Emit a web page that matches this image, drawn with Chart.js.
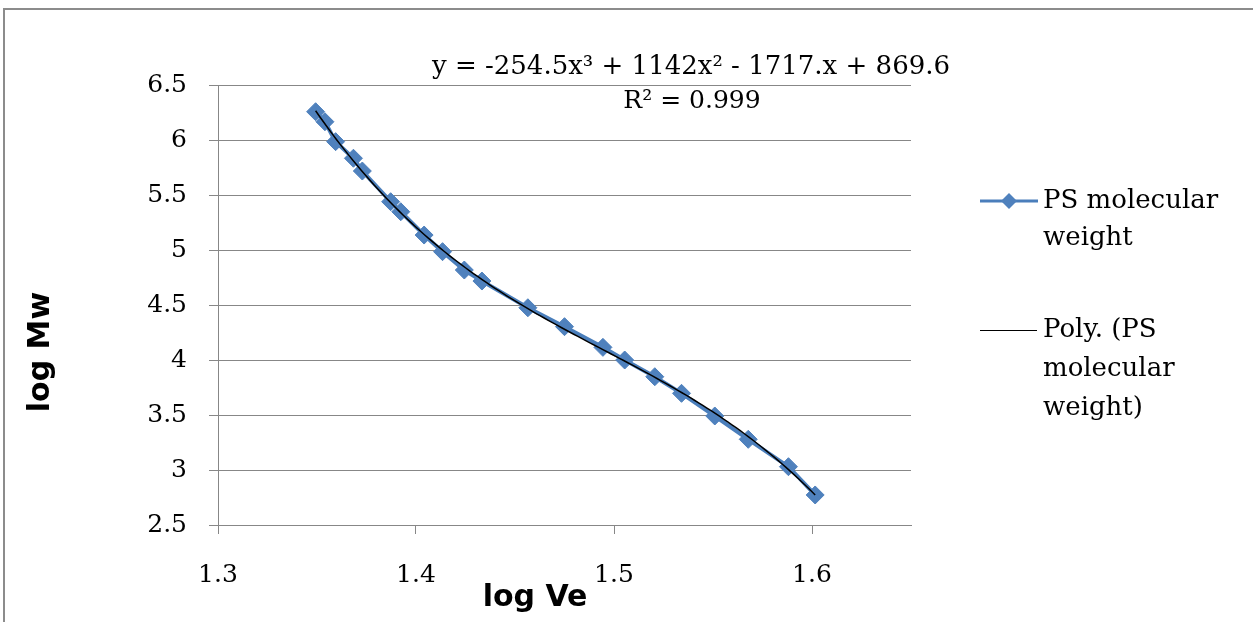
<!DOCTYPE html>
<html>
<head>
<meta charset="utf-8">
<title>PS calibration</title>
<script src="https://cdn.jsdelivr.net/npm/chart.js@4.4.0/dist/chart.umd.min.js"></script>
<style>
  html, body { margin: 0; padding: 0; background: #fff; }
  #wrap { width: 1253px; height: 622px; position: relative; }
</style>
</head>
<body>
<div id="wrap"><canvas id="calibChart"></canvas></div>
<script>
// PS standards: elution volume vs molecular weight (both log10)
const logVe = [1.3493, 1.3540, 1.3594, 1.3684, 1.3729, 1.3872, 1.3923, 1.4041, 1.4134, 1.4244, 1.4333,
               1.4565, 1.4750, 1.4944, 1.5054, 1.5206, 1.5341, 1.5509, 1.5678, 1.5881, 1.6016];
const logMw = [6.257, 6.166, 5.985, 5.834, 5.718, 5.439, 5.348, 5.136, 4.985, 4.818, 4.718,
               4.475, 4.303, 4.115, 4.000, 3.848, 3.697, 3.491, 3.279, 3.030, 2.773];

const xTickValues = [1.3, 1.4, 1.5, 1.6];
const yTickValues = [2.5, 3, 3.5, 4, 4.5, 5, 5.5, 6, 6.5];

const seriesName = ['PS molecular', 'weight'];
const trendName = ['Poly. (PS', 'molecular', 'weight)'];
const fitEquation = 'y = -254.5x³ + 1142x² - 1717.x + 869.6';
const fitR2 = 'R² = 0.999';

const blue = '#4F81BD';
const axisGrey = '#878787';
const serif = '"DejaVu Serif", serif';
const titleFont = 'bold 30px "DejaVu Sans", sans-serif';

// least-squares cubic through the points (x centred for stability)
function cubicFit(xs, ys) {
  const m = xs.reduce((a, b) => a + b, 0) / xs.length;
  const A = [[0, 0, 0, 0], [0, 0, 0, 0], [0, 0, 0, 0], [0, 0, 0, 0]];
  const B = [0, 0, 0, 0];
  xs.forEach((x, k) => {
    const t = x - m;
    const p = [1, t, t * t, t * t * t];
    for (let i = 0; i < 4; i++) {
      B[i] += p[i] * ys[k];
      for (let j = 0; j < 4; j++) A[i][j] += p[i] * p[j];
    }
  });
  for (let i = 0; i < 4; i++) {
    for (let r = i + 1; r < 4; r++) {
      const f = A[r][i] / A[i][i];
      for (let c = i; c < 4; c++) A[r][c] -= f * A[i][c];
      B[r] -= f * B[i];
    }
  }
  const c = [0, 0, 0, 0];
  for (let i = 3; i >= 0; i--) {
    let s = B[i];
    for (let j = i + 1; j < 4; j++) s -= A[i][j] * c[j];
    c[i] = s / A[i][i];
  }
  return x => { const t = x - m; return c[0] + c[1] * t + c[2] * t * t + c[3] * t * t * t; };
}

const poly = cubicFit(logVe, logMw);
const xLo = Math.min(...logVe), xHi = Math.max(...logVe);
const trendPoints = [];
for (let i = 0; i <= 120; i++) {
  const x = xLo + (xHi - xLo) * i / 120;
  trendPoints.push({ x: x, y: poly(x) });
}

const decor = {
  id: 'decor',
  beforeDraw(chart) {
    const ctx = chart.ctx;
    ctx.save();
    ctx.fillStyle = '#fff';
    ctx.fillRect(0, 0, chart.width, chart.height);
    ctx.strokeStyle = '#8c8c8c';
    ctx.lineWidth = 2;
    ctx.strokeRect(4, 9, chart.width + 20, chart.height + 20);
    ctx.restore();
  },
  afterDraw(chart) {
    const ctx = chart.ctx;
    ctx.save();
    ctx.fillStyle = '#000';

    // axis titles
    ctx.font = titleFont;
    ctx.textAlign = 'center';
    ctx.textBaseline = 'middle';
    ctx.fillText('log Ve', 535, 598);
    ctx.translate(41, 352);
    ctx.rotate(-Math.PI / 2);
    ctx.fillText('log Mw', 0, 0);
    ctx.setTransform(1, 0, 0, 1, 0, 0);

    // trendline equation
    ctx.font = '26px ' + serif;
    ctx.fillText(fitEquation, 691, 67);
    ctx.font = '25px ' + serif;
    ctx.fillText(fitR2, 692, 101);

    // legend
    ctx.textAlign = 'left';
    ctx.font = '26px ' + serif;
    ctx.strokeStyle = '#4A7EBB';
    ctx.lineWidth = 3;
    ctx.beginPath();
    ctx.moveTo(980, 201);
    ctx.lineTo(1038, 201);
    ctx.stroke();
    ctx.fillStyle = blue;
    ctx.beginPath();
    ctx.moveTo(1009, 193); ctx.lineTo(1017, 201); ctx.lineTo(1009, 209); ctx.lineTo(1001, 201);
    ctx.closePath();
    ctx.fill();
    ctx.fillStyle = '#000';
    seriesName.forEach((t, i) => ctx.fillText(t, 1043, 201 + i * 37));

    ctx.strokeStyle = '#000';
    ctx.lineWidth = 1;
    ctx.beginPath();
    ctx.moveTo(980, 330.5);
    ctx.lineTo(1037, 330.5);
    ctx.stroke();
    trendName.forEach((t, i) => ctx.fillText(t, 1043, 330 + i * 39));
    ctx.restore();
  }
};

new Chart(document.getElementById('calibChart'), {
  type: 'scatter',
  data: {
    datasets: [{
      label: 'Poly. (PS molecular weight)',
      type: 'line',
      data: trendPoints,
      borderColor: '#000',
      borderWidth: 1.5,
      pointRadius: 0,
      tension: 0,
      order: 0
    }, {
      label: 'PS molecular weight',
      type: 'line',
      data: logVe.map((x, i) => ({ x: x, y: logMw[i] })),
      borderColor: '#4A7EBB',
      borderWidth: 4,
      pointStyle: 'rectRot',
      pointRadius: 9,
      pointBackgroundColor: blue,
      pointBorderColor: blue,
      pointBorderWidth: 1,
      tension: 0,
      order: 1
    }]
  },
  options: {
    responsive: true,
    maintainAspectRatio: false,
    animation: false,
    layout: { padding: { top: 85, right: 342, left: 0, bottom: 0 } },
    plugins: {
      legend: { display: false },
      tooltip: { enabled: false }
    },
    scales: {
      x: {
        type: 'linear',
        min: 1.3,
        max: 1.65,
        afterFit: s => { s.height = 97; },
        afterBuildTicks: s => { s.ticks = xTickValues.map(v => ({ value: v })); },
        grid: { drawOnChartArea: false, drawTicks: true, tickLength: 9, color: axisGrey },
        border: { display: true, color: axisGrey, width: 1 },
        ticks: {
          color: '#000',
          padding: 26,
          font: { family: serif, size: 25 },
          callback: v => String(v)
        }
      },
      y: {
        min: 2.5,
        max: 6.5,
        afterFit: s => { s.width = 218; },
        afterBuildTicks: s => { s.ticks = yTickValues.map(v => ({ value: v })); },
        grid: { color: axisGrey, tickLength: 9 },
        border: { display: true, color: axisGrey, width: 1 },
        ticks: {
          color: '#000',
          padding: 22,
          font: { family: serif, size: 25 },
          callback: v => String(v)
        }
      }
    }
  },
  plugins: [decor]
});
</script>
</body>
</html>
